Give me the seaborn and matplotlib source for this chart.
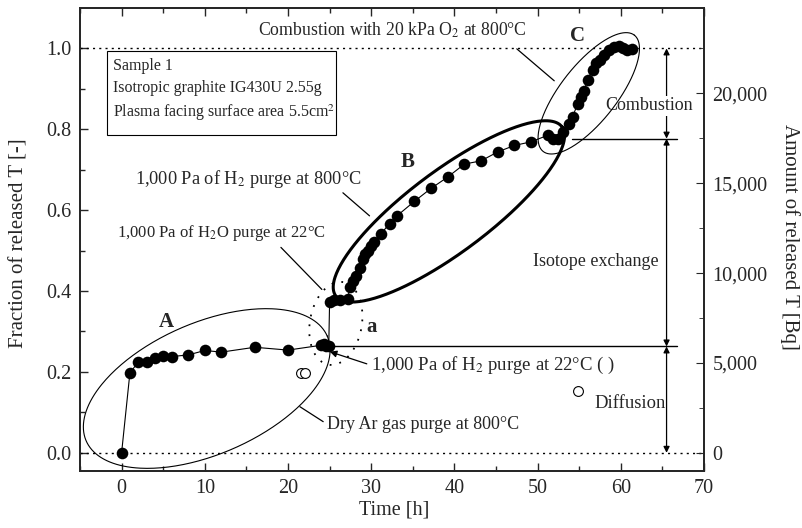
import numpy as np
import matplotlib
matplotlib.use('Agg')
import matplotlib.pyplot as plt
import seaborn as sns
import pandas as pd

# released T fraction vs. time
time_h = [0, 1, 2, 3, 4, 5, 6, 8, 10, 12, 16, 20,
          24.0, 24.3, 24.6, 24.9,
          25.0, 25.5, 26.2, 27.2,
          27.4, 27.8, 28.2, 28.6, 29.0, 29.3, 29.6, 30.0, 30.3, 31.2, 32.2, 33.1,
          35.2, 37.2, 39.2, 41.2, 43.2, 45.2, 47.2, 49.2,
          51.2, 51.8, 52.4, 53.0, 53.8, 54.2, 54.8, 55.2, 55.6, 56.0, 56.6, 57.0,
          57.5, 58.0, 58.6, 59.2, 59.8, 60.3, 60.8, 61.4]
fraction = [0.0, 0.198, 0.224, 0.225, 0.234, 0.240, 0.238, 0.242, 0.253, 0.249, 0.261, 0.254,
            0.266, 0.268, 0.263, 0.265,
            0.374, 0.377, 0.378, 0.380,
            0.409, 0.425, 0.437, 0.458, 0.480, 0.492, 0.500, 0.512, 0.522, 0.542, 0.567, 0.586,
            0.622, 0.654, 0.682, 0.714, 0.722, 0.744, 0.760, 0.769,
            0.785, 0.777, 0.777, 0.793, 0.814, 0.830, 0.863, 0.880, 0.895, 0.923, 0.946, 0.964,
            0.972, 0.984, 0.995, 1.003, 1.007, 1.002, 0.995, 0.999]

# open symbols (H2 purge at 22 C)
open_time = [21.6, 22.0, 54.9]
open_fraction = [0.198, 0.198, 0.154]

total_bq = 22500
level_h2o = 0.263
level_burn = 0.777

sns.set_style('ticks')
plt.rcParams['font.family'] = ['Liberation Serif', 'DejaVu Serif']
plt.rcParams['mathtext.fontset'] = 'stix'
plt.rcParams['font.size'] = 13

fig = plt.figure(figsize=(8.02, 5.28), dpi=100)
ax = fig.add_axes([80 / 802, 57 / 528, 624 / 802, 463 / 528])

df = pd.DataFrame({'t': time_h, 'f': fraction})
sns.lineplot(data=df, x='t', y='f', sort=False, estimator=None, color='k', lw=0.8, ax=ax, zorder=3)
sns.scatterplot(data=df, x='t', y='f', color='k', s=70, edgecolor='k', linewidth=0, ax=ax, zorder=4)
sns.scatterplot(x=open_time, y=open_fraction, facecolor='white', edgecolor='k', s=50, linewidth=0.8,
                ax=ax, zorder=4)

ax.set_xlim(-5, 70)
ax.set_ylim(-0.045, 1.1)
ax.set_xticks(np.arange(0, 71, 10))
ax.set_xticks(np.arange(-5, 71, 5), minor=True)
ax.set_yticks(np.arange(0, 1.01, 0.2))
ax.set_yticks(np.arange(0, 1.01, 0.1), minor=True)
ax.set_yticklabels([f'{v:.1f}' for v in np.arange(0, 1.01, 0.2)])
ax.tick_params(which='both', direction='in', top=True, width=1.0)
ax.tick_params(which='major', length=6, labelsize=14.5, pad=6)
ax.tick_params(which='minor', length=3.5)
ax.set_xlabel('Time [h]', fontsize=14.5, va='center')
ax.xaxis.set_label_coords(0.503, -0.084)
ax.set_ylabel('Fraction of released T [-]', fontsize=15, va='center')
ax.yaxis.set_label_coords(-0.098, 0.491)
for s in ax.spines.values():
    s.set_linewidth(1.3)

ax2 = ax.twinx()
ax2.set_ylim(-0.045 * total_bq, 1.1 * total_bq)
ax2.set_yticks([0, 5000, 10000, 15000, 20000])
ax2.set_yticks(np.arange(0, 22501, 2500), minor=True)
ax2.set_yticklabels(['0', '5,000', '10,000', '15,000', '20,000'])
ax2.tick_params(which='both', direction='in')
ax2.tick_params(which='major', length=6, labelsize=14.5, pad=6)
ax2.tick_params(which='minor', length=3.5)
ax2.set_ylabel('Amount of released T [Bq]', fontsize=15, rotation=270, va='center')
ax2.yaxis.set_label_coords(1.138, 0.505)
for s in ax2.spines.values():
    s.set_linewidth(1.3)

# reference levels
ax.axhline(0, color='k', ls=(0, (1.5, 3)), lw=1.0, zorder=1)
ax.axhline(1.0, color='k', ls=(0, (1.5, 3)), lw=1.0, zorder=1)
ax.plot([24.8, 66.7], [level_h2o, level_h2o], color='k', lw=1.0, zorder=2)
ax.plot([54.1, 66.7], [level_burn, level_burn], color='k', lw=1.0, zorder=2)

# double arrows on the right
arr = dict(arrowstyle='<|-|>', color='k', lw=0.9, mutation_scale=9, shrinkA=0, shrinkB=0)
ax.annotate('', xy=(65.5, 0), xytext=(65.5, level_h2o), arrowprops=arr, zorder=2)
ax.annotate('', xy=(65.5, level_h2o), xytext=(65.5, level_burn), arrowprops=arr, zorder=2)
ax.annotate('', xy=(65.5, level_burn), xytext=(65.5, 1.0), arrowprops=arr, zorder=2)
ax.text(65.4, 0.123, 'Diffusion', ha='right', va='center', fontsize=13.4, zorder=3)
ax.text(64.5, 0.472, 'Isotope exchange', ha='right', va='center', fontsize=13, zorder=3)
ax.text(63.4, 0.858, 'Combustion', ha='center', va='center', fontsize=13, zorder=3,
        bbox=dict(fc='white', ec='none', pad=1))

# ellipses, size in pixels
SX = 8.33
SY = 405.0


def draw_ellipse(cx, cy, a, b, ang, **kw):
    t = np.linspace(0, 2 * np.pi, 300)
    th = np.deg2rad(ang)
    xp = a * np.cos(t) * np.cos(th) - b * np.sin(t) * np.sin(th)
    yp = a * np.cos(t) * np.sin(th) + b * np.sin(t) * np.cos(th)
    ax.plot(cx + xp / SX, cy + yp / SY, color='k', **kw)


draw_ellipse(10.23, 0.159, 131.6, 65.8, 23.5, lw=0.8, zorder=5)
draw_ellipse(39.34, 0.597, 141.4, 40.8, 36.8, lw=2.2, zorder=5)
draw_ellipse(56.15, 0.889, 74, 28.2, 51.9, lw=0.8, zorder=5)
draw_ellipse(25.75, 0.320, 42, 26, 80, lw=1.3, ls=(0, (1, 4.5)), zorder=5)

# labels of the regions
ax.text(5.43, 0.323, 'A', ha='center', va='center', fontsize=15, fontweight='bold')
ax.text(34.4, 0.719, 'B', ha='center', va='center', fontsize=15, fontweight='bold')
ax.text(54.8, 1.031, 'C', ha='center', va='center', fontsize=15, fontweight='bold')
ax.text(30.0, 0.31, 'a', ha='center', va='center', fontsize=15, fontweight='bold')

# sample box
ax.add_patch(plt.Rectangle((-1.7, 0.787), 27.45, 0.206, fill=False, ec='k', lw=0.8, zorder=3))
ax.text(-0.98, 0.957, 'Sample 1', va='center', fontsize=11.5)
ax.text(-0.98, 0.901, 'Isotropic graphite IG430U 2.55g', va='center', fontsize=11.5)
ax.text(-0.98, 0.841, 'Plasma facing surface area 5.5cm$^2$', va='center', fontsize=11.5)

# annotations with leaders
ax.text(16.4, 1.046, 'Combustion with 20 kPa O$_2$ at 800°C', va='center', fontsize=12.8)
ax.plot([47.5, 52.0], [0.999, 0.920], color='k', lw=0.9)
ax.text(1.62, 0.676, '1,000 Pa of H$_2$ purge at 800°C', va='center', fontsize=13.2)
ax.plot([26.6, 29.8], [0.643, 0.586], color='k', lw=0.9)
ax.text(-0.5, 0.544, '1,000 Pa of H$_2$O purge at 22°C', va='center', fontsize=12)
ax.plot([19.15, 24.07], [0.508, 0.404], color='k', lw=0.9)
ax.text(30.0, 0.217, '1,000 Pa of H$_2$ purge at 22°C ( )', va='center', fontsize=13.5)
ax.annotate('', xy=(25.03, 0.250), xytext=(29.47, 0.220),
            arrowprops=dict(arrowstyle='-|>', color='k', lw=0.9, mutation_scale=10,
                            shrinkA=0, shrinkB=0))
ax.text(24.67, 0.07, 'Dry Ar gas purge at 800°C', va='center', fontsize=13)
ax.plot([21.43, 24.23], [0.114, 0.077], color='k', lw=0.9)

fig.savefig('out.png', dpi=100)
